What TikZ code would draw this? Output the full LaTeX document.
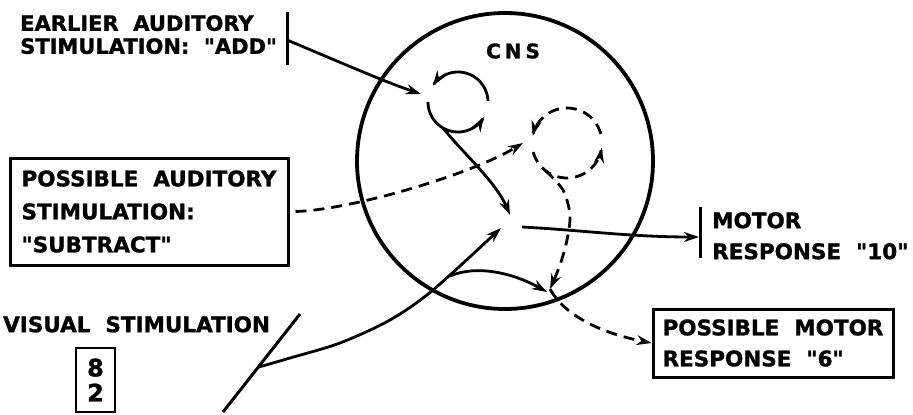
\documentclass[tikz,border=0pt]{standalone}
\usepackage{fontspec}
\newfontfamily\lab{DejaVu Sans}[WordSpace=2, BoldFeatures={FakeBold=1.2}]
\usetikzlibrary{arrows.meta,calc}
\begin{document}
\begin{tikzpicture}[x=1pt,y=-1pt,
  every node/.style={font=\lab\bfseries\fontsize{21.5}{31}\selectfont, inner sep=0pt},
  box/.style={draw, line width=3pt, rectangle, align=left},
  bar/.style={line width=3pt},
  arr/.style={line width=2.8pt, -{Stealth[length=15pt,width=10pt]}},
  dsh/.style={arr, dash pattern=on 11pt off 7pt},
  cnsc/.style={circle, draw, line width=3.8pt, minimum size=296pt}]
\useasboundingbox (0,0) rectangle (913,415);

% CNS circle and label
\node[cnsc] (cns) at (505,161) {};
\node[font=\lab\bfseries\fontsize{20}{24}\selectfont] (cnslabel) at (513,51) {C\kern4pt N\kern4pt S};

% texts and boxes
\node[anchor=north west, align=left, font=\lab\bfseries\fontsize{21}{23}\selectfont] (earlier) at (20,15) {EARLIER AUDITORY\\STIMULATION: "ADD"};
\node[box, minimum width=278pt, minimum height=107pt, font=\lab\bfseries\fontsize{21.5}{33}\selectfont] (possaud) at (149,211.5) {POSSIBLE AUDITORY\\STIMULATION:\\"SUBTRACT"};
\node[anchor=north west, align=left] (motor) at (712,212) {MOTOR\\RESPONSE "10"};
\node[box, minimum width=240pt, minimum height=68pt] (posmot) at (773,343) {POSSIBLE MOTOR\\RESPONSE "6"};
\node[anchor=north west] (visual) at (3,316) {VISUAL STIMULATION};
\node[box, align=center, line width=2.6pt, minimum width=39pt, minimum height=64pt, font=\lab\bfseries\fontsize{24}{25}\selectfont] (digits) at (95.5,380) {8\\2};

% earlier auditory input
\draw[bar] (287,12) -- (287,65);
\coordinate (addbar) at (287,40);
\coordinate (s1) at (421,94);
\draw[arr] (addbar) .. controls (335,60) and (385,82) .. (s1);

% solid loop
\draw[arr] plot[domain=2:147, samples=40] ({458+30*cos(\x)},{102-30*sin(\x)});
\draw[arr] plot[domain=180:330, samples=40] ({458+30*cos(\x)},{102-30*sin(\x)});
\coordinate (sl) at (443,128);
\coordinate (mid) at (510,215);
\draw[arr] (sl) .. controls (462,152) and (496,182) .. (mid);

% dashed loop
\draw[dsh] plot[domain=15:168, samples=40] ({567+35*cos(\x)},{143-35*sin(\x)});
\draw[dsh] plot[domain=195:352, samples=40] ({567+35*cos(\x)},{143-35*sin(\x)});
\coordinate (dl) at (545.5,170.6);
\coordinate (rel) at (550,289);
\draw[dsh] plot[smooth] coordinates {(dl) (563,190) (570,215) (567,240) (560,265) (rel)};
\draw[dsh] (rel) .. controls (566,318) and (606,334) .. (posmot.west);

% possible auditory input
\coordinate (dt) at (523,143);
\draw[dsh] ([xshift=6pt]possaud.east) .. controls (350,210) and (470,175) .. (dt);

% motor response
\coordinate (m0) at (522,227);
\coordinate (mbar) at (699,237);
\draw[arr] (m0) .. controls (580,230) and (630,237) .. (mbar);
\draw[bar] (700,207) -- (700,258);

% visual input
\draw[bar] (300,314) -- (223,412);
\coordinate (vb) at (259,367);
\coordinate (vt) at (501,228);
\draw[arr] plot[smooth] coordinates {(vb) (290,358) (340,343) (390,320) (433,290) (vt)};
\coordinate (vb2) at (450,276);
\coordinate (vt2) at (547,292);
\draw[arr] (vb2) .. controls (478,264) and (515,274) .. (vt2);
\end{tikzpicture}
\end{document}
